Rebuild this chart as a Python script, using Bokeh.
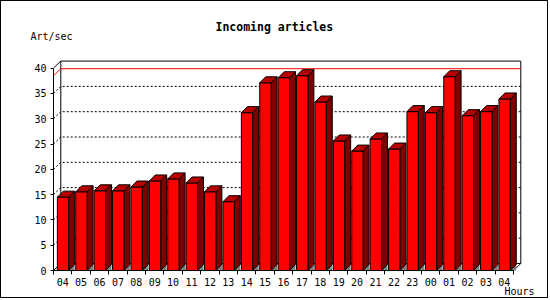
from bokeh.plotting import figure
from bokeh.models import Range1d, FixedTicker, CustomJSTickFormatter, Label
from bokeh.embed import file_html
from bokeh.resources import INLINE

# ---------------- data ----------------
hours = ["04", "05", "06", "07", "08", "09", "10", "11", "12", "13", "14", "15",
         "16", "17", "18", "19", "20", "21", "22", "23", "00", "01", "02", "03", "04"]
rates = [14.5, 15.55, 15.75, 15.75, 16.5, 17.7, 18.1, 17.3, 15.55, 13.6, 31.2, 37.1,
         38.1, 38.5, 33.3, 25.6, 23.6, 26.0, 24.0, 31.4, 31.2, 38.3, 30.6, 31.4, 33.9]
y_ticks = [0, 5, 10, 15, 20, 25, 30, 35, 40]
grid_levels = [5, 10, 15, 20, 25, 30, 35]
title_text = "Incoming articles"
y_label = "Art/sec"
x_label = "Hours"

# ---------------- layout ----------------
W, H = 548, 298            # canvas; 1px CSS border around it -> 550x300
X0, Y0 = 53, 270           # page px of the data origin
SX = 18.4                  # px per hour slot
SY = 5.06                  # px per unit
n = len(rates)
top_val = y_ticks[-1]

dxw, dyw = 7.3 / SX, 7.0 / SY     # wall depth
dxb, dyb = 6.0 / SX, 6.0 / SY     # bar depth
b_off, b_w = 0.21, 0.615          # bar position inside slot


def px(xp):   # page px -> data x
    return (xp - X0) / SX


def py(yp):   # page px -> data y
    return (Y0 - yp) / SY


MONO = "DejaVu Sans Mono"

p = figure(width=W, height=H, output_backend="svg", toolbar_location=None, title=None,
           x_range=Range1d(px(1), px(1 + W)), y_range=Range1d(py(1 + H), py(1)),
           min_border=0, min_border_left=0, min_border_right=0,
           min_border_top=0, min_border_bottom=0)
p.styles = {"border": "1px solid black"}
p.background_fill_color = "white"
p.border_fill_color = "white"
p.outline_line_color = None
p.xgrid.visible = False
p.ygrid.visible = False

# axes (fixed at the data origin)
p.yaxis.fixed_location = 0
p.xaxis.fixed_location = 0
p.yaxis.ticker = FixedTicker(ticks=y_ticks, minor_ticks=[])
p.yaxis.bounds = (0, top_val)
p.yaxis.major_tick_in = 0
p.yaxis.major_tick_out = 3
p.yaxis.major_label_standoff = 4
p.xaxis.ticker = FixedTicker(ticks=[i + 0.5 for i in range(n)],
                             minor_ticks=list(range(n + 1)))
p.xaxis.formatter = CustomJSTickFormatter(args=dict(labels=hours),
                                          code="return labels[Math.floor(tick)];")
p.xaxis.bounds = (0, n)
p.xaxis.major_tick_in = 0
p.xaxis.major_tick_out = 0
p.xaxis.minor_tick_in = 0
p.xaxis.minor_tick_out = 4
p.xaxis.major_label_standoff = 3
for ax in (p.xaxis, p.yaxis):
    ax.axis_line_color = "black"
    ax.major_tick_line_color = "black"
    ax.minor_tick_line_color = "black"
    ax.major_label_text_font = MONO
    ax.major_label_text_font_size = "10px"
    ax.major_label_text_color = "black"

# back wall & floor edges
wall_xs = [[0, dxw], [dxw, dxw, n + dxw, n + dxw, dxw], [0, dxw], [n, n + dxw]]
wall_ys = [[top_val, top_val + dyw], [dyw, top_val + dyw, top_val + dyw, dyw, dyw],
           [0, dyw], [0, dyw]]
p.multi_line(xs=wall_xs, ys=wall_ys, line_color="black", line_width=1)

# dotted grid
p.multi_line(xs=[[0, dxw, n + dxw] for _ in grid_levels],
             ys=[[v, v + dyw, v + dyw] for v in grid_levels],
             line_color="black", line_width=1, line_dash="2 2")

# max line
m = max(rates)
p.line(x=[0, dxw, n + dxw], y=[m, m + dyw, m + dyw], line_color="#ff0000", line_width=1)

# bars
lefts = [i + b_off for i in range(n)]
rights = [l + b_w for l in lefts]
p.patches(xs=[[r, r + dxb, r + dxb] for r in rights],
          ys=[[0, dyb, 0] for _ in rights],
          fill_color="#808080", line_color=None)
p.patches(xs=[[r, r + dxb, r + dxb, r] for r in rights],
          ys=[[0, dyb, v + dyb, v] for v in rates],
          fill_color="#800000", line_color="black", line_width=1)
p.quad(left=lefts, right=rights, bottom=0, top=rates,
       fill_color="#ff0000", line_color="black", line_width=1)
p.patches(xs=[[l, l + dxb, r + dxb, r] for l, r in zip(lefts, rights)],
          ys=[[v, v + dyb, v + dyb, v] for v in rates],
          fill_color="#b80000", line_color="black", line_width=1)

# texts
p.add_layout(Label(x=px(215), y=py(26), text=title_text, text_align="left",
                   text_baseline="middle", text_font=MONO, text_font_style="bold",
                   text_font_size="11.5px", text_color="black"))
p.add_layout(Label(x=px(30), y=py(36), text=y_label, text_align="left",
                   text_baseline="middle", text_font=MONO,
                   text_font_size="10px", text_color="black"))
p.add_layout(Label(x=px(504), y=py(291), text=x_label, text_align="left",
                   text_baseline="middle", text_font=MONO,
                   text_font_size="10px", text_color="black"))

open("out.html", "w").write(file_html(p, INLINE))
